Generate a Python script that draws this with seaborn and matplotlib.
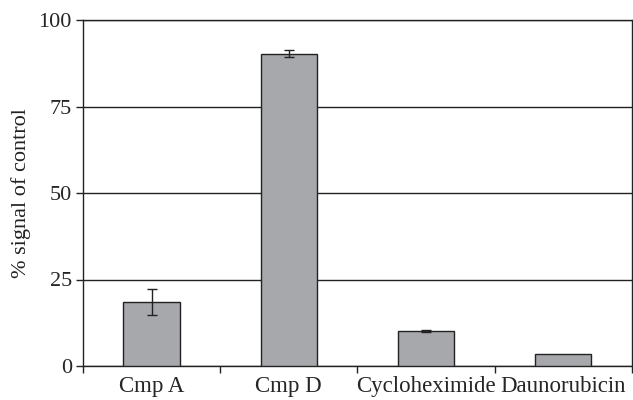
import matplotlib
matplotlib.use("Agg")
import matplotlib.pyplot as plt
import seaborn as sns
import pandas as pd
import numpy as np

# values
compounds = ["Cmp A", "Cmp D", "Cycloheximide", "Daunorubicin"]
signal = [18.5, 90.3, 10.0, 3.5]
sem = [3.8, 1.0, 0.3, 0.0]

df = pd.DataFrame({"compound": compounds, "signal": signal, "sem": sem})

sns.set_style("white")
plt.rcParams["font.family"] = ["Liberation Serif", "DejaVu Serif"]

fig = plt.figure(figsize=(6.33, 4.0), dpi=100)
ax = fig.add_axes([0.131, 0.085, 0.867, 0.865])

sns.barplot(data=df, x="compound", y="signal", color="#a7a8ab",
            edgecolor="#222222", linewidth=1.0, width=0.41,
            errorbar=None, saturation=1, ax=ax, zorder=3)

# error bars only where there is one
has_err = df["sem"] > 0
ax.errorbar(np.arange(len(df))[has_err], df["signal"][has_err], yerr=df["sem"][has_err],
            fmt="none", ecolor="#222222", elinewidth=1.0, capsize=3.5, capthick=1.0, zorder=4)

ax.set_ylim(0, 100)
ax.set_xlim(-0.5, len(df) - 0.5)
ax.set_yticks([0, 25, 50, 75, 100])
ax.yaxis.grid(True, color="#222222", linewidth=1.0)
ax.set_axisbelow(True)

# tick marks between categories, labels centred on bars
ax.set_xticks(np.arange(-0.5, len(df)), minor=True)
ax.tick_params(axis="x", which="major", length=0, labelsize=16.5, pad=7)
ax.tick_params(axis="x", which="minor", length=5, width=1.0, color="#222222", direction="out", bottom=True)
ax.tick_params(axis="y", length=5, width=1.0, color="#222222", direction="out", left=True, labelsize=16, pad=3)

for s in ax.spines.values():
    s.set_color("#222222")
    s.set_linewidth(1.0)

ax.set_xlabel("")
ax.set_ylabel("% signal of control", fontsize=16, color="#222222", labelpad=5)

fig.savefig("out.png", dpi=100)
